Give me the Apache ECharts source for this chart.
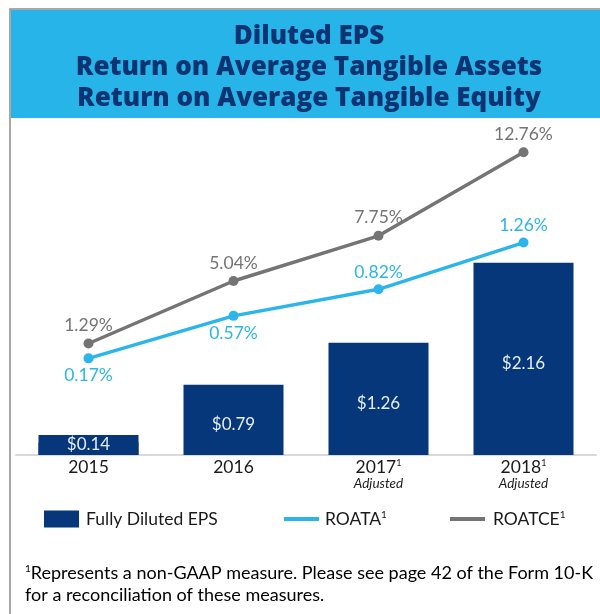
<!DOCTYPE html>
<html><head><meta charset="utf-8">
<script src="https://cdn.jsdelivr.net/npm/echarts@6/dist/echarts.min.js"></script>
<style>html,body{margin:0;padding:0;background:#fff}#c{width:600px;height:614px}</style>
</head><body><div id="c"></div>
<script>
const years = ['2015', '2016', '2017', '2018'];
const yearSup = ['', '', '1', '1'];
const yearNotes = ['', '', 'Adjusted', 'Adjusted'];
const epsValues = [0.14, 0.79, 1.26, 2.16];
const roataValues = [0.17, 0.57, 0.82, 1.26];
const roatceValues = [1.29, 5.04, 7.75, 12.76];
const titleLines = ['Diluted EPS', 'Return on Average Tangible Assets', 'Return on Average Tangible Equity'];
const footnoteLines = ['Represents a non-GAAP measure. Please see page 42 of the Form 10-K', 'for a reconciliation of these measures.'];

const NAVY = '#05377a', TITLE = '#0c3372', SKY = '#27b5e9', LBLUE = '#2cb5ea', GREY = '#747474';
const FONT = 'Lato';
const roataLabelPos = ['bottom', 'bottom', 'top', 'top'];
const epsLabelPos = ['insideBottom', 'inside', 'inside', 'inside'];

const chart = echarts.init(document.getElementById('c'), null, {renderer: 'canvas'});
const supRich = {a: {fontFamily: FONT, fontSize: 17.5, color: '#1a1a1a'}, s: {fontFamily: FONT, fontSize: 10, color: '#1a1a1a', padding: [0, 0, 8, 0]}};

chart.setOption({
  backgroundColor: '#fff',
  animation: false,
  title: {
    text: titleLines.join('\n'), left: 309, top: 21, textAlign: 'center', padding: 0,
    textStyle: {fontFamily: 'Open Sans', fontSize: 26, fontWeight: 800, color: TITLE, lineHeight: 31}
  },
  graphic: [
    {type: 'rect', z: -10, shape: {x: 10, y: 9, width: 620, height: 640}, style: {fill: '#fff', stroke: '#8c8c8c', lineWidth: 1.5}},
    {type: 'rect', z: -9, shape: {x: 11, y: 10, width: 600, height: 108}, style: {fill: SKY}},
    {type: 'text', left: 25, top: 564, style: {
      text: '{s|1}{t|' + footnoteLines[0] + '}\n{t|' + footnoteLines[1] + '}',
      rich: {t: {fontFamily: FONT, fontSize: 18, color: TITLE, lineHeight: 22}, s: {fontFamily: FONT, fontSize: 10, color: TITLE, padding: [0, 0, 8, 0], lineHeight: 22}}
    }}
  ],
  legend: [
    {data: ['Fully Diluted EPS'], left: 44, top: 510, padding: 0, itemWidth: 35, itemHeight: 17, itemGap: 0, icon: 'rect',
     textStyle: {fontFamily: FONT, fontSize: 17.5, color: '#1a1a1a', padding: [0, 0, 0, 2]}},
    {data: ['ROATA'], left: 284, top: 510, padding: 0, itemWidth: 35, itemHeight: 4, icon: 'rect',
     formatter: n => '{a|' + n + '}{s|1}', textStyle: {rich: supRich, padding: [0, 0, 0, 1]}},
    {data: ['ROATCE'], left: 450, top: 510, padding: 0, itemWidth: 35, itemHeight: 4, icon: 'rect',
     formatter: n => '{a|' + n + '}{s|1}', textStyle: {rich: supRich, padding: [0, 0, 0, 3]}}
  ],
  grid: {left: 16, right: 4, top: 130, bottom: 159},
  xAxis: {
    type: 'category', data: years,
    axisLine: {lineStyle: {color: '#d9d9d9', width: 2}},
    axisTick: {show: false},
    axisLabel: {
      margin: 3,
      formatter: (v, i) => '{y|' + v + '}' + (yearSup[i] ? '{s|' + yearSup[i] + '}' : '') + (yearNotes[i] ? '\n{n|' + yearNotes[i] + '}' : ''),
      rich: {
        y: {fontFamily: FONT, fontSize: 17.5, color: '#1a1a1a', lineHeight: 19},
        s: {fontFamily: FONT, fontSize: 9, color: '#1a1a1a', padding: [0, 0, 8, 0], lineHeight: 19},
        n: {fontFamily: FONT, fontSize: 13.5, fontStyle: 'italic', color: '#1a1a1a', lineHeight: 14}
      }
    }
  },
  yAxis: [
    {type: 'value', min: 0, max: 3.65, show: false, splitLine: {show: false}},
    {type: 'value', min: -0.74, max: 2.32, show: false, splitLine: {show: false}},
    {type: 'value', min: -5.4, max: 14.1, show: false, splitLine: {show: false}}
  ],
  series: [
    {name: 'Fully Diluted EPS', type: 'bar', yAxisIndex: 0, barWidth: 100,
     data: epsValues.map((v, i) => ({value: v, label: epsLabelPos[i] === 'insideBottom'
       ? {position: 'insideBottom', offset: [0, 0], distance: 0, backgroundColor: NAVY, width: 100, height: 20, lineHeight: 20, align: 'center'}
       : {position: 'inside'}})),
     itemStyle: {color: NAVY},
     label: {show: true, offset: [0, 5], formatter: p => '$' + p.value.toFixed(2),
       fontFamily: FONT, fontSize: 17, color: '#e6edf6'}},
    {name: 'ROATA', type: 'line', yAxisIndex: 1, z: 3,
     data: roataValues.map((v, i) => ({value: v, label: {position: roataLabelPos[i]}})),
     symbol: 'circle', symbolSize: 10, lineStyle: {width: 3.5, color: LBLUE}, itemStyle: {color: LBLUE},
     label: {show: true, distance: 3, formatter: p => p.value.toFixed(2) + '%', fontFamily: FONT, fontSize: 17.5, color: LBLUE}},
    {name: 'ROATCE', type: 'line', yAxisIndex: 2, z: 3,
     data: roatceValues, symbol: 'circle', symbolSize: 10, lineStyle: {width: 3.5, color: GREY}, itemStyle: {color: GREY},
     label: {show: true, position: 'top', distance: 4, formatter: p => p.value.toFixed(2) + '%', fontFamily: FONT, fontSize: 17.5, color: GREY}}
  ]
});
</script></body></html>
